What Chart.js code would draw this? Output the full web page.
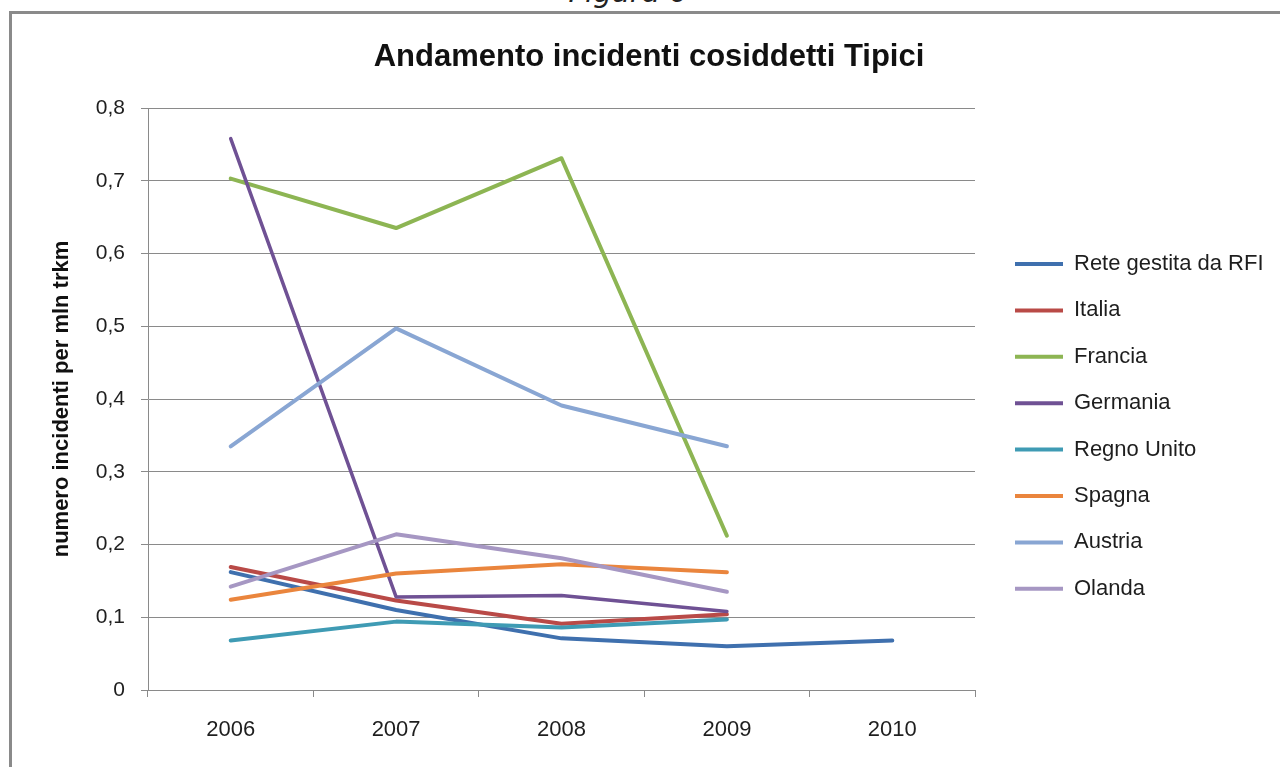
<!DOCTYPE html>
<html lang="it">
<head>
<meta charset="utf-8">
<title>Andamento incidenti cosiddetti Tipici</title>
<script src="https://cdn.jsdelivr.net/npm/chart.js@4.4.1/dist/chart.umd.min.js"></script>
<style>
  html, body { margin: 0; padding: 0; background: #fff; overflow: hidden; }
  #wrap { position: relative; width: 1280px; height: 767px; }
  #chart { position: absolute; left: 0; top: 0; }
  #frame {
    position: absolute; left: 9px; top: 11px; width: 1300px; height: 800px;
    border-top: 3px solid #8a8a8a; border-left: 3px solid #8a8a8a;
    pointer-events: none;
  }
  #fig {
    position: absolute; left: 0; width: 1256px; top: -22px; text-align: center;
    font: italic 29px/29px "DejaVu Sans", sans-serif; color: #222;
  }
</style>
</head>
<body>
<div id="wrap">
  <div id="fig">Figura 6</div>
  <canvas id="chart" width="1280" height="767"></canvas>
  <div id="frame"></div>
</div>
<script>
  // data
  const years = ['2006', '2007', '2008', '2009', '2010'];
  const yTickLabels = ['0', '0,1', '0,2', '0,3', '0,4', '0,5', '0,6', '0,7', '0,8'];
  const seriesNames = ['Rete gestita da RFI', 'Italia', 'Francia', 'Germania', 'Regno Unito', 'Spagna', 'Austria', 'Olanda'];

  const rfi = [0.162, 0.110, 0.071, 0.060, 0.068];
  const italia = [0.169, 0.123, 0.091, 0.104];
  const francia = [0.703, 0.635, 0.731, 0.212];
  const germania = [0.758, 0.128, 0.130, 0.108];
  const regnoUnito = [0.068, 0.094, 0.086, 0.097];
  const spagna = [0.124, 0.160, 0.173, 0.162];
  const austria = [0.335, 0.497, 0.391, 0.335];
  const olanda = [0.142, 0.214, 0.181, 0.135];

  const seriesValues = [rfi, italia, francia, germania, regnoUnito, spagna, austria, olanda];
  const seriesColors = ['#3f70ae', '#b94a47', '#8db553', '#6f5194', '#3f9bb4', '#ea853d', '#89a6d3', '#a697c3'];

  const FONT = '"Liberation Sans", Arial, sans-serif';
  const gridColor = '#8a8a8a';
  const textColor = '#1e1e1e';

  // legend geometry
  const legendFont = 22;
  const legendPad = 24.4;
  const legendBoxW = 48;
  const plotRight = 975;
  const legendLeft = 1015 - legendPad;

  // work out how wide Chart.js will make the legend so the plot ends where it should
  const mctx = document.createElement('canvas').getContext('2d');
  mctx.font = legendFont + 'px ' + FONT;
  const widest = Math.max(...seriesNames.map(n => mctx.measureText(n).width));
  const legendW = legendPad + legendBoxW + legendFont / 2 + widest + 10;
  const padRight = Math.max(0, 1280 - legendLeft - legendW);
  const padLeft = 18 + padRight; // keeps the title centred like the original

  const datasets = seriesNames.map((name, i) => ({
    label: name,
    data: seriesValues[i],
    borderColor: seriesColors[i],
    backgroundColor: seriesColors[i],
    borderWidth: i === 3 ? 3.5 : 4,
    pointRadius: 0,
    pointHoverRadius: 0,
    tension: 0,
    borderJoinStyle: 'round',
    borderCapStyle: 'round',
    fill: false,
    order: -i
  }));

  new Chart(document.getElementById('chart'), {
    type: 'line',
    data: { labels: years, datasets: datasets },
    options: {
      responsive: false,
      animation: false,
      layout: { padding: { left: padLeft, right: padRight, top: 0, bottom: 0 } },
      plugins: {
        tooltip: { enabled: false },
        title: {
          display: true,
          text: 'Andamento incidenti cosiddetti Tipici',
          color: '#111',
          font: { family: FONT, size: 31, weight: 'bold', lineHeight: 1.2 },
          padding: { top: 38.4, bottom: 32.4 }
        },
        legend: {
          position: 'right',
          align: 'start',
          maxWidth: 1280 - legendLeft,
          title: { display: true, text: '', font: { size: 10, lineHeight: 1 }, padding: { top: 218.6, bottom: 0 } },
          labels: {
            color: textColor,
            font: { family: FONT, size: legendFont },
            boxWidth: legendBoxW,
            boxHeight: 4,
            padding: legendPad,
            generateLabels: chart => chart.data.datasets.map((ds, i) => ({
              text: ds.label,
              fillStyle: ds.borderColor,
              strokeStyle: ds.borderColor,
              fontColor: textColor,
              lineWidth: 0,
              hidden: false,
              datasetIndex: i
            }))
          }
        }
      },
      scales: {
        x: {
          offset: true,
          grid: { offset: true, drawOnChartArea: false, drawTicks: true, tickLength: 7, color: gridColor },
          border: { color: gridColor, width: 1 },
          ticks: {
            color: textColor,
            padding: 20,
            maxRotation: 0,
            font: { family: '"Liberation Sans Narrow", ' + FONT, size: 22 }
          },
          afterFit: s => { s.height = 77; }
        },
        y: {
          min: 0,
          max: 0.8,
          grid: { color: gridColor, lineWidth: 1, drawTicks: true, tickLength: 7 },
          border: { color: gridColor, width: 1 },
          ticks: {
            stepSize: 0.1,
            color: textColor,
            padding: 16,
            font: { family: FONT, size: 21 },
            callback: (v, i) => yTickLabels[i]
          },
          title: {
            display: true,
            text: 'numero incidenti per mln trkm',
            color: '#111',
            font: { family: FONT, size: 22, weight: 'bold', lineHeight: 1.2 },
            padding: { top: 62 - padLeft - 13.2, bottom: 0 }
          },
          afterFit: s => { s.width = 148 - padLeft; }
        },
        // empty strip between the plot and the legend
        gap: {
          type: 'linear',
          position: 'right',
          display: true,
          grid: { display: false },
          border: { display: false },
          ticks: { display: false },
          afterFit: s => { s.width = legendLeft - plotRight; }
        }
      }
    }
  });
</script>
</body>
</html>
